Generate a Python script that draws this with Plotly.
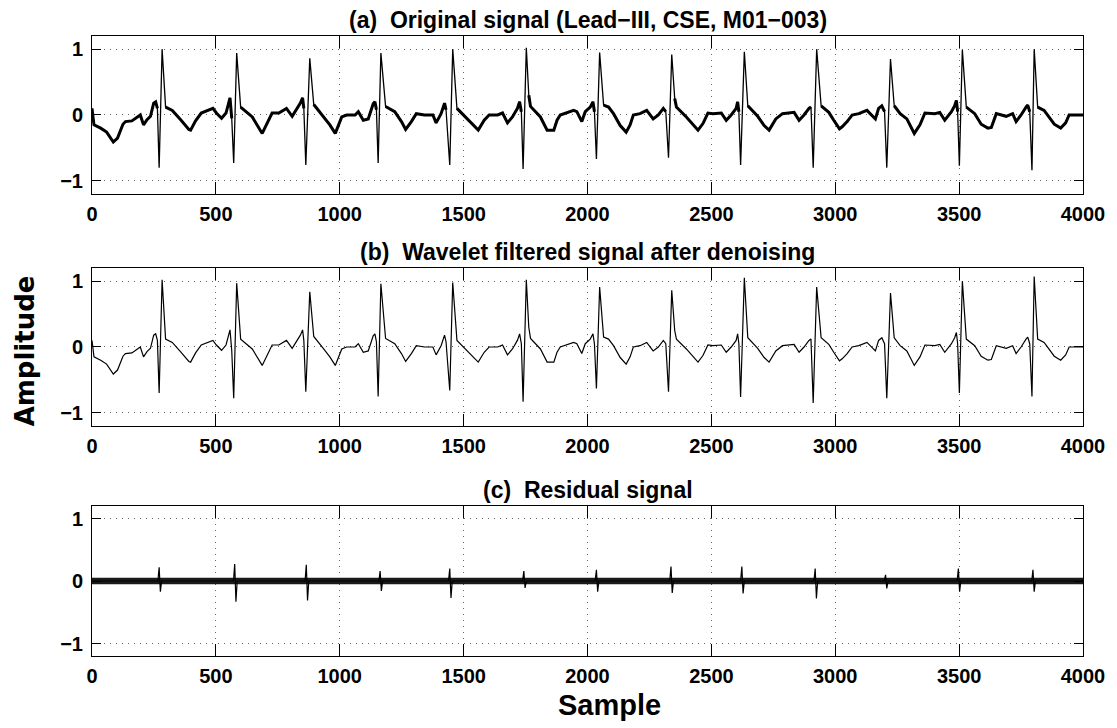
import plotly.graph_objects as go

# ---------------- data ----------------
# QRS complexes (sample index of Q trough and R peak), shared by panels (a) and (b)
q_x = [271, 572, 863, 1155, 1444, 1740, 2036, 2327, 2618, 2911, 3208, 3501, 3794]
r_x = [283, 584, 879, 1166, 1456, 1753, 2049, 2340, 2633, 2925, 3223, 3513, 3803]
q_amp_a = [-0.80, -0.73, -0.76, -0.73, -0.76, -0.82, -0.67, -0.65, -0.76, -0.80, -0.80, -0.77, -0.84]
r_amp_a = [1.00, 0.94, 0.86, 0.94, 1.00, 1.02, 0.95, 0.92, 0.96, 1.00, 0.85, 0.99, 1.00]
q_amp_b = [-0.70, -0.78, -0.68, -0.75, -0.66, -0.83, -0.63, -0.68, -0.76, -0.85, -0.78, -0.70, -0.75]
r_amp_b = [1.02, 0.97, 0.84, 0.96, 0.98, 1.02, 0.91, 0.86, 1.05, 0.91, 0.82, 1.00, 1.07]

# baseline / P / T wave vertices (between QRS complexes)
base_x = [0, 8, 35, 59, 86, 103, 125, 135, 161, 195, 208, 222, 236, 249, 257, 264,
          297, 324, 357, 391, 398, 418, 441, 488, 502, 523, 541, 557, 564,
          600, 647, 687, 727, 754, 785, 808, 841, 850, 855,
          895, 935, 960, 982, 1008, 1028, 1062, 1075, 1095, 1115, 1135, 1142, 1148,
          1185, 1222, 1249, 1266, 1289, 1309, 1342, 1376, 1389, 1409, 1423, 1429,
          1473, 1516, 1559, 1583, 1603, 1637, 1657, 1677, 1697, 1717, 1726, 1733,
          1763, 1770, 1810, 1837, 1864, 1877, 1890, 1944, 1957, 1977, 1991, 2011, 2022, 2028,
          2065, 2085, 2105, 2132, 2156, 2172, 2185, 2212, 2239, 2265, 2286, 2306, 2316,
          2352, 2359, 2399, 2426, 2446, 2466, 2486, 2506, 2540, 2560, 2580, 2600, 2606, 2611,
          2647, 2687, 2713, 2733, 2760, 2787, 2834, 2854, 2874, 2894, 2902,
          2943, 2974, 2994, 3017, 3028, 3048, 3068, 3095, 3128, 3162, 3175, 3188, 3199,
          3238, 3262, 3289, 3319, 3342, 3362, 3402, 3422, 3442, 3469, 3482, 3489, 3494,
          3529, 3563, 3589, 3616, 3630, 3650, 3690, 3716, 3730, 3750, 3770, 3777, 3785,
          3817, 3843, 3884, 3910, 3930, 3944, 4000]
base_y = [0.10, -0.15, -0.20, -0.26, -0.41, -0.35, -0.14, -0.10, -0.09, 0.00, -0.15, -0.07, -0.02, 0.18, 0.20, 0.10,
          0.12, 0.07, -0.07, -0.22, -0.23, -0.09, 0.03, 0.10, 0.03, -0.05, 0.03, 0.26, -0.05,
          0.12, -0.03, -0.28, 0.03, 0.03, 0.10, -0.02, 0.18, 0.26, 0.10,
          0.16, -0.03, -0.15, -0.28, -0.03, 0.00, 0.00, 0.05, -0.08, -0.06, 0.17, 0.20, 0.08,
          0.13, 0.05, -0.10, -0.22, -0.10, 0.02, 0.00, 0.00, -0.12, 0.02, 0.18, 0.08,
          0.10, -0.06, -0.23, -0.08, 0.00, 0.00, 0.03, -0.12, -0.03, 0.10, 0.20, 0.05,
          0.30, 0.13, -0.03, -0.23, -0.23, -0.08, 0.00, 0.07, 0.05, -0.10, 0.05, 0.12, 0.20, 0.05,
          0.15, 0.12, 0.02, -0.16, -0.26, -0.15, 0.00, 0.02, 0.07, -0.06, 0.00, 0.10, 0.05,
          0.25, 0.12, -0.03, -0.14, -0.23, -0.13, 0.03, 0.02, 0.03, -0.08, 0.00, 0.10, 0.20, 0.05,
          0.14, -0.02, -0.16, -0.23, -0.06, 0.02, 0.04, -0.08, 0.00, 0.10, 0.12,
          0.14, 0.04, -0.08, -0.21, -0.18, -0.10, 0.00, 0.02, 0.07, -0.06, 0.10, 0.14, 0.05,
          0.14, 0.02, -0.06, -0.28, -0.15, 0.03, 0.02, 0.04, -0.08, 0.05, 0.14, 0.22, 0.05,
          0.12, 0.02, -0.14, -0.20, -0.19, 0.02, -0.02, 0.02, -0.10, 0.00, 0.12, 0.15, 0.05,
          0.12, 0.07, -0.14, -0.20, -0.12, 0.00, 0.00]

# residual spikes at the QRS complexes
resid_x = [274, 579, 868, 1166, 1447, 1746, 2039, 2340, 2626, 2922, 3206, 3500, 3801]
resid_up = [0.22, 0.27, 0.26, 0.16, 0.20, 0.16, 0.18, 0.23, 0.23, 0.20, 0.10, 0.20, 0.18]
resid_down = [-0.17, -0.33, -0.31, -0.16, -0.27, -0.11, -0.17, -0.19, -0.20, -0.28, -0.12, -0.17, -0.17]
resid_band_x = [0, 4000]
resid_band_y = [0.0, 0.0]

x_ticks = [0, 500, 1000, 1500, 2000, 2500, 3000, 3500, 4000]
y_ticks = [-1, 0, 1]
titles = ["(a)\u00a0 Original signal (Lead\u2212III, CSE, M01\u2212003)",
          "(b)\u00a0 Wavelet filtered signal after denoising",
          "(c)\u00a0 Residual signal"]

# ---------------- build polylines ----------------
def merge(qv, rv):
    pts = list(zip(base_x, base_y)) + list(zip(q_x, qv)) + list(zip(r_x, rv))
    pts.sort(key=lambda p: p[0])
    return [p[0] for p in pts], [p[1] for p in pts]

ax_, ay_ = merge(q_amp_a, r_amp_a)
bx_, by_ = merge(q_amp_b, r_amp_b)

# baseline-only segments (noisy, thick look for the original signal)
seg_x, seg_y = [], []
for i, (x, y) in enumerate(zip(base_x, base_y)):
    if i > 0 and any(base_x[i - 1] < q < x for q in q_x):
        seg_x.append(None); seg_y.append(None)
    seg_x.append(x); seg_y.append(y)

cx_, cy_ = [0], [0.0]
for s, u, d in zip(resid_x, resid_up, resid_down):
    cx_ += [s - 8, s - 3, s + 2, s + 7]
    cy_ += [0.0, u, d, 0.0]
cx_.append(4000); cy_.append(0.0)

fig = go.Figure()
fig.add_trace(go.Scatter(x=seg_x, y=seg_y, mode="lines", line=dict(color="black", width=3.0),
                         xaxis="x", yaxis="y", showlegend=False, hoverinfo="skip"))
fig.add_trace(go.Scatter(x=ax_, y=ay_, mode="lines", line=dict(color="black", width=1.3),
                         xaxis="x", yaxis="y", showlegend=False))
fig.add_trace(go.Scatter(x=bx_, y=by_, mode="lines", line=dict(color="black", width=1.2),
                         xaxis="x2", yaxis="y2", showlegend=False))
fig.add_trace(go.Scatter(x=resid_band_x, y=resid_band_y, mode="lines", line=dict(color="#1a1a1a", width=6.5),
                         xaxis="x3", yaxis="y3", showlegend=False, hoverinfo="skip"))
fig.add_trace(go.Scatter(x=cx_, y=cy_, mode="lines", line=dict(color="black", width=1.2),
                         xaxis="x3", yaxis="y3", showlegend=False))

FONT = "Liberation Sans, Arial, sans-serif"
tickfont = dict(family=FONT, size=20, color="black", weight="bold")
GRID = dict(showgrid=True, gridcolor="#666666", griddash="1px,5px", gridwidth=1)

def xax(anchor):
    return dict(domain=[0, 1], anchor=anchor, range=[0, 4000], tickvals=x_ticks,
                ticktext=[str(v) for v in x_ticks], showline=True, linecolor="black", linewidth=1,
                mirror="ticks", ticks="inside", ticklen=12, tickcolor="black", tickwidth=1,
                zeroline=False, tickfont=tickfont, ticklabelstandoff=2, **GRID)

def yax(anchor, dom):
    return dict(domain=dom, anchor=anchor, range=[-1.2, 1.2], tickvals=y_ticks,
                ticktext=["\u22121", "0", "1"], showline=True, linecolor="black", linewidth=1,
                mirror="ticks", ticks="inside", ticklen=9, tickcolor="black", tickwidth=1,
                zeroline=False, tickfont=tickfont, ticklabelstandoff=4, **GRID)

# the page body has an 8px margin, so the figure is sized/offset to land on the 1117x728 frame
doms = [[0.7452, 1.0], [0.371, 0.6258], [0.0, 0.2419]]
fig.update_layout(
    width=1109, height=720,
    margin=dict(l=84, r=28, t=28, b=72),
    paper_bgcolor="white", plot_bgcolor="white",
    xaxis=xax("y"), yaxis=yax("x", doms[0]),
    xaxis2=xax("y2"), yaxis2=yax("x2", doms[1]),
    xaxis3=xax("y3"), yaxis3=yax("x3", doms[2]),
    showlegend=False,
)

annotations = []
for t, d in zip(titles, doms):
    annotations.append(dict(text=t, x=0.5, y=d[1], xref="paper", yref="paper",
                            xanchor="center", yanchor="bottom", yshift=1, showarrow=False,
                            font=dict(family=FONT, size=23, color="black", weight="bold")))
annotations.append(dict(text="Amplitude", x=-0.0672, y=0.492, xref="paper", yref="paper",
                        xanchor="center", yanchor="middle", textangle=-90, showarrow=False,
                        borderpad=0,
                        font=dict(family="DejaVu Sans", size=26, color="black", weight="bold")))
annotations.append(dict(text="Sample", x=0.522, y=-0.079, xref="paper", yref="paper",
                        xanchor="center", yanchor="middle", showarrow=False,
                        font=dict(family=FONT, size=29, color="black", weight="bold")))
fig.update_layout(annotations=annotations)

fig.write_html("out.html")
